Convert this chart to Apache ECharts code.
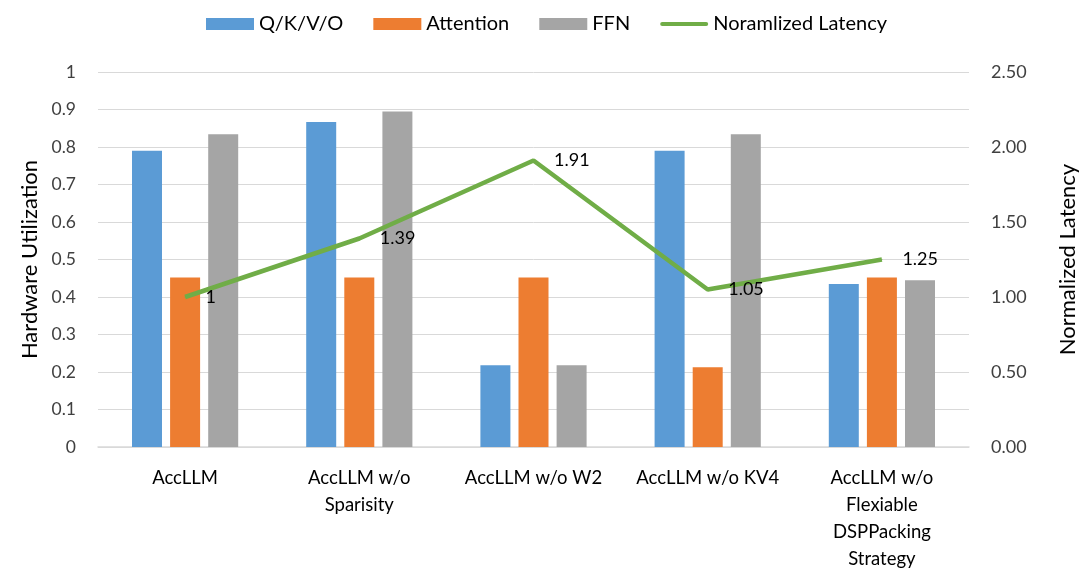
<!doctype html>
<html lang="en">
<head>
  <meta charset="utf-8">
  <title>Hardware Utilization</title>
  <script src="https://cdn.jsdelivr.net/npm/echarts@6/dist/echarts.min.js"></script>
  <style>
    html, body { margin: 0; padding: 0; background: #ffffff; }
    #chart { width: 1079px; height: 580px; }
  </style>
</head>
<body>
  <div id="chart"></div>
  <script type="text/javascript">
    // data
    let categories = ['AccLLM', 'AccLLM w/o\nSparisity', 'AccLLM w/o W2', 'AccLLM w/o KV4', 'AccLLM w/o\nFlexiable\nDSPPacking\nStrategy'];
    let qkvoData = [0.79, 0.867, 0.218, 0.79, 0.435];
    let attentionData = [0.452, 0.452, 0.452, 0.213, 0.452];
    let ffnData = [0.834, 0.895, 0.218, 0.834, 0.445];
    let latencyData = [1, 1.39, 1.91, 1.05, 1.25];

    const font = 'Lato';
    const textColor = '#404040';
    const gridLine = { show: true, lineStyle: { color: '#d9d9d9', width: 1 } };
    // thick line with rounded ends for the legend
    const lineIcon = 'path://M2,0 L46,0 A2,2 0 0 1 46,4 L2,4 A2,2 0 0 1 2,0 Z';

    let chart = echarts.init(document.getElementById('chart'));
    let option = {
      textStyle: { fontFamily: font },
      legend: {
        top: 9,
        left: 201,
        itemWidth: 48,
        itemHeight: 12,
        itemGap: 30,
        textStyle: { fontSize: 20, color: '#000000', fontFamily: font },
        data: [
          { name: 'Q/K/V/O', icon: 'rect' },
          { name: 'Attention', icon: 'rect' },
          { name: 'FFN', icon: 'rect' },
          { name: 'Noramlized Latency', icon: lineIcon }
        ]
      },
      grid: { left: 98, right: 110, top: 72, bottom: 133, outerBoundsMode: 'none', containLabel: false },
      xAxis: {
        type: 'category',
        data: categories,
        axisTick: { show: false },
        axisLine: { lineStyle: { color: '#d9d9d9', width: 1.5 } },
        axisLabel: { color: '#000000', fontSize: 18.5, lineHeight: 27, margin: 18, interval: 0, fontFamily: font }
      },
      yAxis: [
        {
          type: 'value',
          name: 'Hardware Utilization',
          nameLocation: 'middle',
          nameGap: 57,
          nameTextStyle: { fontSize: 22, color: '#000000', fontFamily: font },
          min: 0,
          max: 1,
          interval: 0.1,
          splitLine: gridLine,
          axisLine: { show: false },
          axisTick: { show: false },
          axisLabel: {
            color: textColor, fontSize: 17.5, margin: 22, fontFamily: font,
            formatter: (v) => String(Math.round(v * 10) / 10)
          }
        },
        {
          type: 'value',
          name: 'Normalized Latency',
          nameLocation: 'middle',
          nameGap: 88,
          nameRotate: 90,
          nameTextStyle: { fontSize: 22, color: '#000000', fontFamily: font },
          min: 0,
          max: 2.5,
          interval: 0.5,
          splitLine: { show: false },
          axisLine: { show: false },
          axisTick: { show: false },
          axisLabel: {
            color: textColor, fontSize: 18, margin: 22, fontFamily: font,
            formatter: (v) => v.toFixed(2)
          }
        }
      ],
      series: [
        {
          name: 'Q/K/V/O', type: 'bar', data: qkvoData,
          barWidth: 30, barGap: '27%',
          itemStyle: { color: '#5b9bd5' }
        },
        {
          name: 'Attention', type: 'bar', data: attentionData,
          barWidth: 30, barGap: '27%',
          itemStyle: { color: '#ed7d31' }
        },
        {
          name: 'FFN', type: 'bar', data: ffnData,
          barWidth: 30, barGap: '27%',
          itemStyle: { color: '#a5a5a5' }
        },
        {
          name: 'Noramlized Latency', type: 'line', yAxisIndex: 1, data: latencyData,
          symbol: 'circle',
          symbolSize: 1,
          lineStyle: { color: '#70ad47', width: 4.5 },
          itemStyle: { color: '#70ad47' },
          label: {
            show: true, position: 'right', distance: 20,
            color: '#000000', fontSize: 18, fontFamily: font
          },
          labelLayout: { hideOverlap: false },
          z: 5
        }
      ]
    };
    chart.setOption(option);
  </script>
</body>
</html>
